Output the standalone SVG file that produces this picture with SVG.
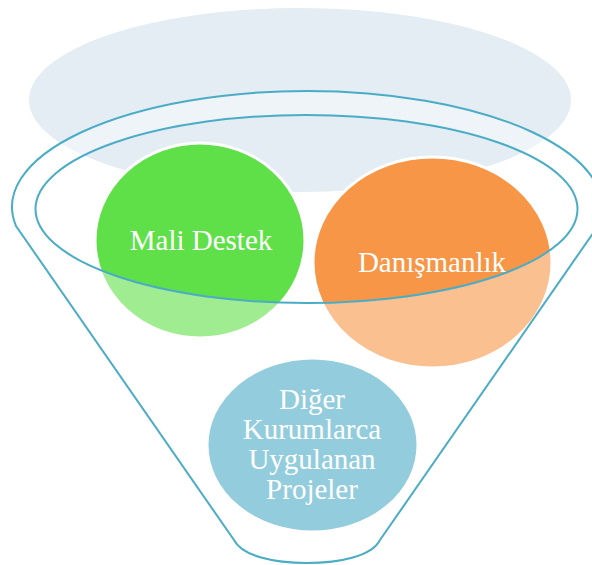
<svg xmlns="http://www.w3.org/2000/svg" width="592" height="565" viewBox="0 0 592 565">
<style>
.lbl{font-family:"Liberation Serif","Times New Roman",serif;font-size:29px;fill:#ffffff;text-anchor:middle}
.node{stroke:#ffffff;stroke-width:3}
.funnel{fill:#ffffff;fill-opacity:0.4;fill-rule:evenodd;stroke:#4BACC6;stroke-width:2}
</style>
<rect width="592" height="565" fill="#ffffff"/>
<g id="backdrop">
<ellipse cx="300" cy="100" rx="271" ry="92" fill="#E3EDF3"/>
</g>
<g id="node-mali-destek">
<ellipse class="node" cx="200" cy="240.5" rx="105" ry="97.5" fill="#60E048"/>
<text class="lbl" x="201" y="250">Mali Destek</text>
</g>
<g id="node-danismanlik">
<ellipse class="node" cx="432.5" cy="262.5" rx="119.5" ry="105.5" fill="#F79646"/>
<text class="lbl" x="432" y="272">Danışmanlık</text>
</g>
<g id="node-diger">
<ellipse class="node" cx="312.5" cy="445" rx="105.5" ry="87" fill="#4BACC6"/>
<text class="lbl" x="312" y="408.5">Diğer</text>
<text class="lbl" x="312" y="438.5">Kurumlarca</text>
<text class="lbl" x="312" y="468.5">Uygulanan</text>
<text class="lbl" x="312" y="498.5">Projeler</text>
</g>
<g id="funnel">
<path class="funnel" d="M 16 226 A 295 116 0 1 1 598 226 L 380 540 C 372 556 340 563 307 563 C 274 563 242 556 234 540 Z M 35.5 209 A 271 94 0 1 0 577.5 209 A 271 94 0 1 0 35.5 209 Z"/>
</g>
<g id="connectors"/>
</svg>
